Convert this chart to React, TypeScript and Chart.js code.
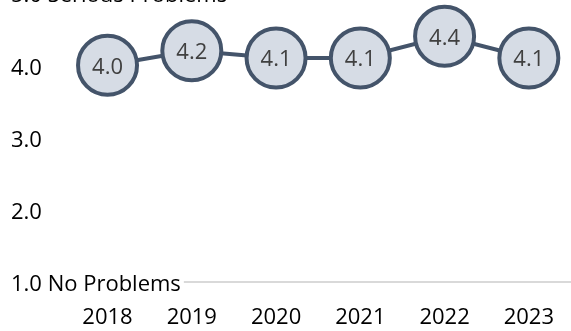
import React, { useEffect, useRef } from "react";
import { Chart, registerables } from "chart.js";

Chart.register(...registerables);

const years = ["2018", "2019", "2020", "2021", "2022", "2023"];
const scores = [4.0, 4.2, 4.1, 4.1, 4.4, 4.1];
const yTickLabels: Record<number, string> = {
  5: "5.0 Serious Problems",
  4: "4.0",
  3: "3.0",
  2: "2.0",
  1: "1.0 No Problems",
};

const FONT = "'Open Sans', 'Noto Sans', sans-serif";

const pointLabelPlugin = {
  id: "pointLabels",
  afterDatasetsDraw(chart: any) {
    const ctx = chart.ctx;
    const meta = chart.getDatasetMeta(0);
    const data = chart.data.datasets[0].data as number[];
    ctx.save();
    ctx.font = `22px ${FONT}`;
    ctx.fillStyle = "#404040";
    ctx.textAlign = "center";
    ctx.textBaseline = "middle";
    meta.data.forEach((el: any, i: number) => {
      ctx.fillText(Number(data[i]).toFixed(1), el.x, el.y + 2);
    });
    ctx.restore();
  },
};

export default function App() {
  const ref = useRef<HTMLCanvasElement | null>(null);
  useEffect(() => {
    if (!ref.current) return;
    const chart = new Chart(ref.current, {
      type: "line",
      data: {
        labels: years,
        datasets: [
          {
            data: scores,
            borderColor: "#44546A",
            borderWidth: 4,
            pointRadius: 29.5,
            pointBorderWidth: 4,
            pointBackgroundColor: "#D6DCE5",
            pointBorderColor: "#44546A",
            tension: 0,
          },
        ],
      },
      options: {
        animation: false,
        responsive: false,
        events: [],
        layout: { autoPadding: false, padding: { top: 23, left: 11, right: 0, bottom: 0 } },
        plugins: { legend: { display: false }, tooltip: { enabled: false } },
        scales: {
          x: {
            offset: true,
            grid: { display: false, drawTicks: false },
            border: { display: true, color: "#d9d9d9", width: 2 },
            ticks: {
              font: { family: FONT, size: 22 },
              color: "#000",
              padding: 23,
              maxRotation: 0,
            },
            afterFit: (s: any) => {
              s.height = 49;
            },
          },
          y: {
            min: 1,
            max: 5,
            grid: { display: false, drawTicks: false },
            border: { display: false },
            ticks: {
              stepSize: 1,
              mirror: true,
              crossAlign: "near",
              padding: -54.4,
              font: { family: FONT, size: 22 },
              color: "#000",
              labelOffset: 3,
              showLabelBackdrop: true,
              backdropColor: "#ffffff",
              backdropPadding: { top: 0, bottom: 0, left: 0, right: 3 },
              callback: (v: any) => yTickLabels[Number(v)] ?? Number(v).toFixed(1),
            },
            afterFit: (s: any) => {
              s.width = 54.4;
            },
          },
        },
      },
      plugins: [pointLabelPlugin],
    });
    return () => chart.destroy();
  }, []);
  return (
    <div
      style={{
        position: "absolute",
        left: 0,
        top: -30,
        width: 571,
        height: 361,
        overflow: "hidden",
        background: "#fff",
      }}
    >
      <canvas ref={ref} width={577} height={361} style={{ display: "block" }} />
    </div>
  );
}
